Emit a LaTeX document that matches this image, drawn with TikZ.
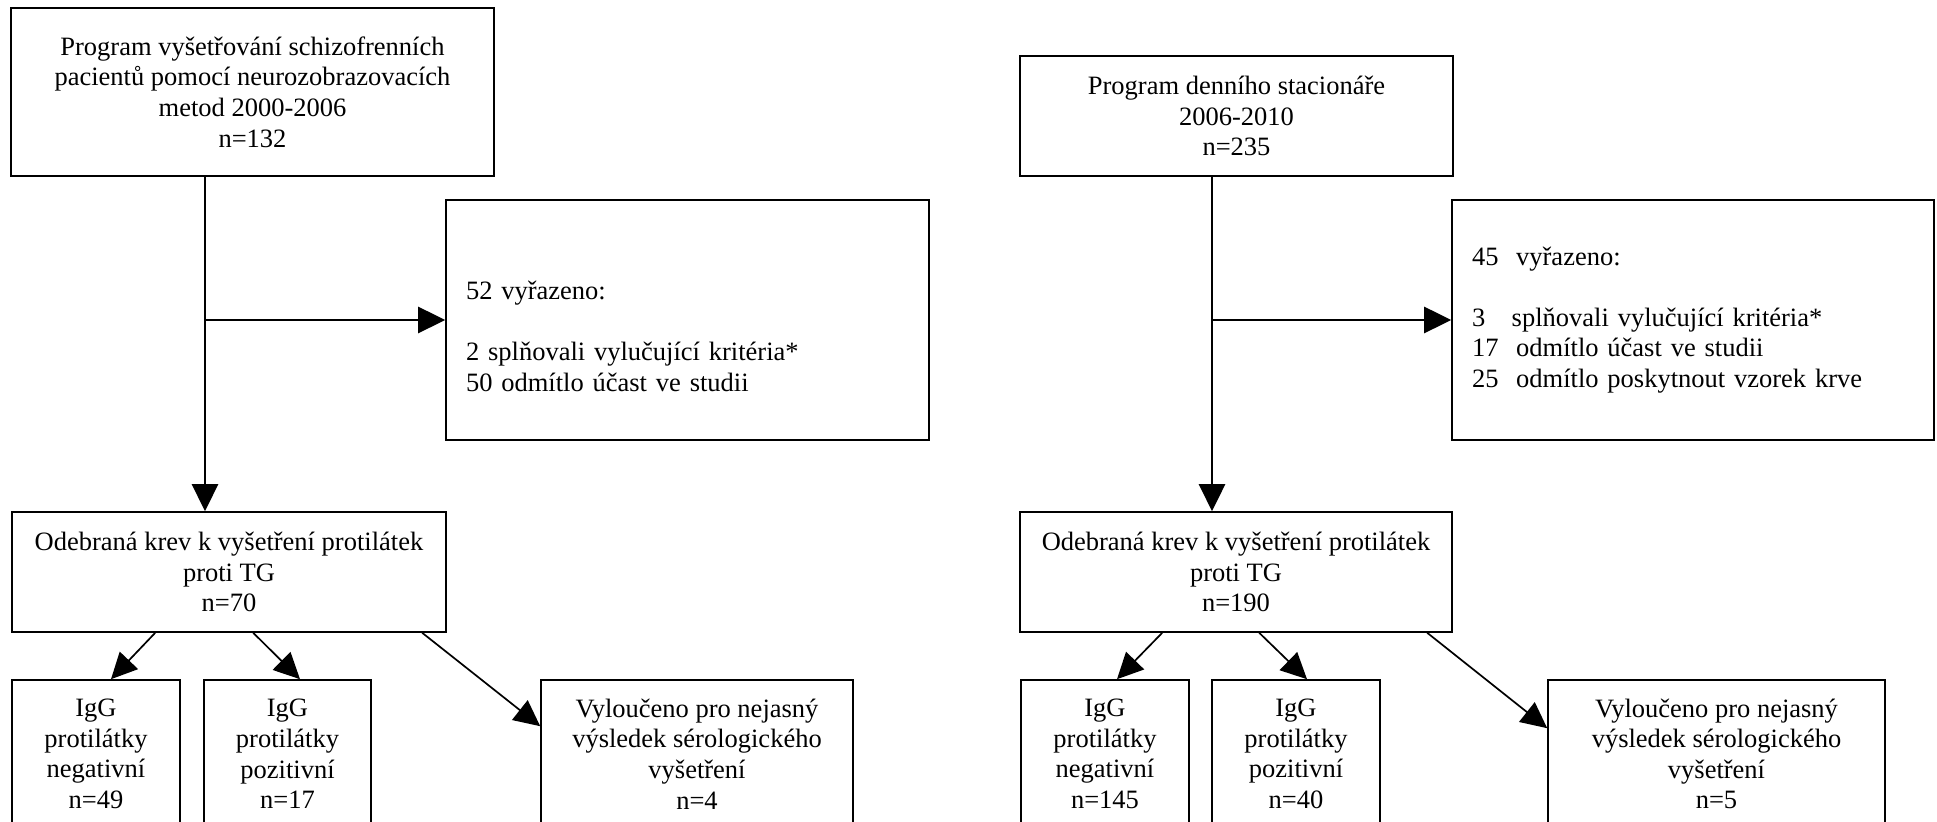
\documentclass[tikz,border=0pt]{standalone}
\usepackage{fontspec}
\setmainfont{Liberation Serif}
\usetikzlibrary{positioning,arrows.meta,calc}

\begin{document}
\begin{tikzpicture}[x=1pt, y=-1pt,
    box/.style={draw, line width=0.8pt, align=center, inner sep=0pt, font=\fontsize{13.25}{15.3}\selectfont},
    listbox/.style={box, align=left, inner xsep=10pt},
    trunk/.style={line width=1.35pt, -{Triangle[length=13.5pt,width=13pt]}},
    branch/.style={line width=0.85pt, -{Triangle[length=13pt,width=12.5pt]}}
]
\useasboundingbox (0,0) rectangle (968.5,411);
\clip (0,0) rectangle (968.5,411);

% left branch
\node[box, minimum width=241.5pt, minimum height=84pt] (prog1) at (126.25,46) {Program vyšetřování schizofrenních\\pacientů pomocí neurozobrazovacích\\metod 2000-2006\\n=132};
\node[listbox, text width=221.5pt, minimum height=120pt] (excl1) at (343.75,160) {\mbox{}\\[10pt]52 vyřazeno:\\\mbox{}\\2 splňovali vylučující kritéria*\\50 odmítlo účast ve studii};
\node[box, minimum width=217pt, minimum height=60pt] (blood1) at (114.5,286) {Odebraná krev k vyšetření protilátek\\proti TG\\n=70};
\node[box, minimum width=84pt, minimum height=74pt] (neg1) at (48,377) {IgG\\protilátky\\negativní\\n=49};
\node[box, minimum width=83.5pt, minimum height=74pt] (pos1) at (143.75,377) {IgG\\protilátky\\pozitivní\\n=17};
\node[box, minimum width=156pt, minimum height=74pt] (unc1) at (348.5,377) {Vyloučeno pro nejasný\\výsledek sérologického\\vyšetření\\n=4};

\coordinate (split1) at (102.5,160);
\draw[trunk] (prog1.south -| split1) -- (blood1.north -| split1);
\draw[trunk] (split1) -- (excl1);
\draw[branch] ($(blood1.south west)+(72,0)$) -- ($(neg1.north)+(7.5,0)$);
\draw[branch] ($(blood1.south west)+(121,0)$) -- ($(pos1.north)+(6.25,0)$);
\draw[branch] ($(blood1.south west)+(205.5,0)$) -- ($(unc1.north west)+(0,23.5)$);

% right branch
\node[box, minimum width=216.5pt, minimum height=60pt] (prog2) at (618.25,58) {Program denního stacionáře\\2006-2010\\n=235};
\node[listbox, text width=221pt, minimum height=120pt] (excl2) at (846.5,160) {45\ \ vyřazeno:\\\mbox{}\\3\ \ \ splňovali vylučující kritéria*\\17\ \ odmítlo účast ve studii\\25\ \ odmítlo poskytnout vzorek krve};
\node[box, minimum width=216pt, minimum height=60pt] (blood2) at (618,286) {Odebraná krev k vyšetření protilátek\\proti TG\\n=190};
\node[box, minimum width=84pt, minimum height=74pt] (neg2) at (552.5,377) {IgG\\protilátky\\negativní\\n=145};
\node[box, minimum width=84pt, minimum height=74pt] (pos2) at (648,377) {IgG\\protilátky\\pozitivní\\n=40};
\node[box, minimum width=168.5pt, minimum height=74pt] (unc2) at (858.25,377) {Vyloučeno pro nejasný\\výsledek sérologického\\vyšetření\\n=5};

\coordinate (split2) at (606,160);
\draw[trunk] (prog2.south -| split2) -- (blood2.north -| split2);
\draw[trunk] (split2) -- (excl2);
\draw[branch] ($(blood2.south west)+(71.5,0)$) -- ($(neg2.north)+(6,0)$);
\draw[branch] ($(blood2.south west)+(120,0)$) -- ($(pos2.north)+(5.5,0)$);
\draw[branch] ($(blood2.south west)+(204,0)$) -- ($(unc2.north west)+(0,24.5)$);
\end{tikzpicture}
\end{document}
